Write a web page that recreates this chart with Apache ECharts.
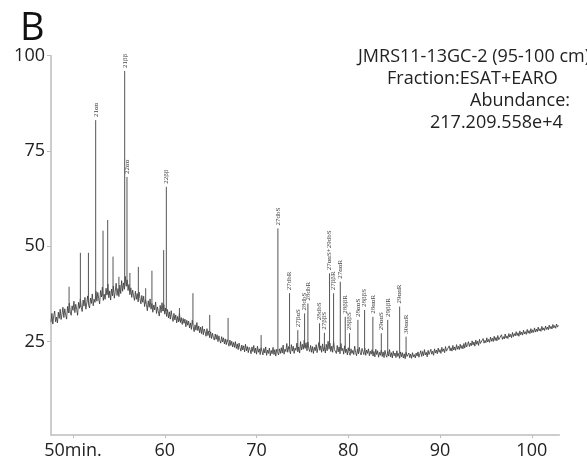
<!DOCTYPE html>
<html><head><meta charset="utf-8">
<script src="https://cdn.jsdelivr.net/npm/echarts@6/dist/echarts.min.js"></script>
<style>html,body{margin:0;padding:0;background:#fff}#c{width:587px;height:468px}</style>
</head><body><div id="c"></div>
<script>
// ---- data ----
const xTicks = [50, 60, 70, 80, 90, 100];
const yTicks = [25, 50, 75, 100];
const traceStart = 47.6, traceStep = 0.1;   // sampling of the noisy trace (min)
const traceA = [30.1,32.4,29.6,31.8,33.0,30.2,31.4,29.9,32.7,31.1,33.5,30.8,32.2,34.0,31.3,33.6,32.0,30.9,34.2,32.5,35.1,32.8,31.9,34.4,33.2,35.6,32.6,34.8,33.4,31.9,35.3,33.7,36.2,34.0,32.9,35.9,34.3,36.6,33.5,35.2,37.0,34.6,33.8,36.4,35.0,37.5,34.4,36.1,35.3,38.2];
const traceB = [35.6,37.9,36.2,34.9,38.4,36.7,39.3,35.8,37.4,36.1,39.0,37.2,40.1,36.5,38.3,35.9,38.8,37.0,39.6,36.4,38.1,40.3,37.1,38.9,36.8,39.8,37.6,41.0,38.2,40.4,38.7,42.1,39.5,41.2,38.4,40.0,37.3,39.1,36.6,38.5,37.0,35.8,38.2,36.1,37.6,35.4,38.0,36.3,34.9,37.1];
const traceC = [35.3,36.9,34.2,36.0,34.8,33.1,35.7,34.0,36.2,33.5,35.0,32.7,34.6,33.3,35.4,32.4,34.1,32.9,31.7,34.5,32.6,35.2,33.0,34.7,32.2,33.8,31.6,33.4,31.2,32.8,30.9,33.1,31.5,30.3,32.4,30.7,32.0,29.9,31.6,30.2,32.5,30.0,31.3,29.5,31.1,29.8,30.9,28.9,30.6,29.3];
const traceD = [30.4,28.6,29.9,28.2,30.6,28.9,27.6,29.4,28.0,30.0,27.9,29.1,27.3,28.8,27.1,29.0,26.8,28.3,27.5,26.4,28.4,26.6,27.8,26.0,27.6,25.8,27.2,26.1,25.4,27.0,25.6,26.8,25.0,26.5,25.3,24.6,26.3,24.9,26.0,24.4,25.7,24.2,25.5,24.7,23.8,25.4,24.0,25.1,23.6,24.8];
const traceE = [23.5,25.0,23.2,24.4,22.9,24.6,23.4,22.5,24.1,22.8,23.9,22.3,24.3,22.6,23.7,22.1,23.5,22.9,21.8,23.6,22.4,24.0,22.0,23.3,21.7,23.8,22.2,23.1,21.6,23.4,22.5,21.5,23.2,22.0,23.6,21.4,22.8,21.9,23.3,21.3,22.7,21.8,23.5,21.6,22.9,21.2,23.0,22.1,21.5,23.1];
const traceF = [21.9,23.4,22.0,24.1,21.7,23.0,22.4,24.5,22.2,23.7,22.6,21.8,24.2,22.5,23.8,21.9,23.3,22.7,24.6,22.3,23.6,22.0,25.0,22.8,24.3,23.0,25.4,23.2,24.7,22.6,24.9,23.1,22.4,24.0,22.2,23.7,21.9,23.5,22.6,24.2,22.1,23.3,24.8,22.7,23.9,22.2,24.4,22.5,23.6,22.0];
const traceG = [24.3,22.6,25.1,23.0,24.6,22.4,23.8,22.2,25.0,22.9,23.4,21.9,24.0,22.3,23.6,21.8,24.5,22.6,23.2,21.7,23.9,22.1,23.0,21.5,23.4,22.0,21.4,23.1,21.9,22.7,21.6,23.8,22.2,21.3,23.0,21.8,23.5,22.1,21.5,23.2,22.4,21.6,23.3,21.4,22.8,21.9,23.1,21.3,22.5,21.7];
const traceH = [22.9,21.2,22.4,21.0,23.0,21.6,22.6,20.9,22.2,21.4,22.8,21.1,22.3,20.8,22.7,21.5,20.9,22.4,21.2,22.9,21.0,22.1,20.7,22.5,21.3,22.0,20.8,22.6,21.1,21.9,20.6,22.3,21.0,22.1,20.7,21.8,20.5,22.2,21.1,20.6,22.0,20.8,21.7,20.6,22.1,21.0,21.6,20.7,22.0,21.2];
const traceI = [22.3,20.9,21.8,22.6,21.1,22.4,21.3,22.9,21.5,22.2,21.0,22.7,21.6,22.1,23.0,21.7,22.5,21.4,23.1,22.0,22.8,21.8,23.3,22.2,22.9,21.9,23.5,22.4,23.1,22.1,23.7,22.5,23.0,22.3,23.9,22.6,23.4,22.5,24.0,22.8,23.6,22.7,24.2,23.0,23.8,22.9,24.3,23.2,24.0,23.1];
const traceJ = [24.5,23.3,24.8,23.6,24.2,25.0,23.7,24.6,23.9,25.2,24.1,24.9,23.8,25.4,24.3,25.1,24.0,25.6,24.5,25.0,24.4,25.8,24.6,25.3,24.7,26.0,24.9,25.6,24.8,26.2,25.1,25.9,25.0,26.4,25.3,26.1,25.2,26.6,25.5,26.0,25.4,26.8,25.6,26.3,25.7,27.0,25.9,26.5,25.8,27.1];
const traceK = [26.2,26.9,26.0,27.4,26.3,27.1,26.5,27.6,26.6,27.3,26.4,27.8,26.8,27.5,26.7,28.0,27.0,27.6,26.9,28.2,27.2,27.9,27.1,28.4,27.3,28.1,27.4,28.6,27.5,28.3,27.6,28.8,27.8,28.4,27.7,29.0,28.0,28.6,27.9,29.1,28.2,28.8,28.1,29.3,28.4,29.0,28.3,29.5,28.6,29.2,28.5,29.6,28.8,29.3,29.0];

const peakTimes = [49.57,50.8,51.68,52.47,53.27,53.78,54.36,55.0,55.63,55.88,56.2,57.12,57.92,58.6,59.88,60.17,61.6,63.07,64.9,66.9,70.5,72.33,73.6,74.5,75.24,75.6,76.87,77.4,77.96,78.4,79.13,79.67,80.14,81.05,81.78,82.68,83.6,84.3,85.6,86.3];
const peakTops  = [39.4,48.3,48.3,83.1,54.1,56.9,47.3,42.0,96.0,68.2,43.0,44.6,39.0,43.6,49.0,65.6,33.8,37.7,32.0,31.2,26.7,54.7,37.7,28.0,32.4,35.0,29.8,27.3,42.9,37.7,40.7,31.5,27.2,30.7,33.3,31.5,27.2,30.7,34.2,26.3];
const peakBases = [32.5,34.0,35.0,36.0,37.0,37.5,38.0,38.0,40.0,40.0,38.0,36.0,35.0,34.0,33.0,33.0,30.5,29.5,27.5,25.0,22.5,22.5,23.0,23.0,23.5,23.5,23.0,23.0,23.5,23.5,23.0,22.5,22.5,22.5,22.5,22.0,22.0,22.0,21.8,21.5];
const peakNames = ['','','','21αα','','','','','21ββ','22αα','','','','','','22ββ','','','','','','27dbS','27dbR','27βαS','28dbS','28dbR','28dbS','27ββS','27ααS+29dbS','27ββR','27ααR','28ββR','28ββS','28ααS','28ββS','28ααR','29ααS','29ββR','29ααR','30ααR'];

const titleLetter = 'B';
const infoLines = ['JMRS11-13GC-2 (95-100 cm)', 'Fraction:ESAT+EARO', 'Abundance:', '217.209.558e+4'];

// ---- build ----
const traceValues = [].concat(traceA, traceB, traceC, traceD, traceE, traceF, traceG, traceH, traceI, traceJ, traceK);
const traceData = traceValues.map((v, i) => [+(traceStart + i * traceStep).toFixed(2), v]);
const peakData = peakTimes.map((t, i) => [t, peakBases[i], peakTops[i]]);

const chart = echarts.init(document.getElementById('c'), null, {renderer: 'canvas'});
const axisColor = '#bdbdbd';
const labelFont = {color: '#222', fontSize: 18, fontFamily: 'Open Sans'};
const infoStyle = {fontSize: 18, fontFamily: 'Open Sans', fill: '#222'};

chart.setOption({
  animation: false,
  backgroundColor: '#fff',
  grid: {left: 51, right: 27.7, top: 55.7, bottom: 33, containLabel: false},
  xAxis: {
    type: 'value', min: 47.6, max: 103,
    axisLine: {lineStyle: {color: axisColor, width: 1.5}},
    axisTick: {show: true, length: 3, lineStyle: {color: axisColor}, customValues: xTicks},
    axisLabel: Object.assign({margin: 7, customValues: xTicks,
      formatter: v => v === 50 ? '50min.' : String(v)}, labelFont),
    splitLine: {show: false}
  },
  yAxis: {
    type: 'value', min: 0.5, max: 100,
    axisLine: {show: true, lineStyle: {color: axisColor, width: 1.5}},
    axisTick: {show: true, length: 4, lineStyle: {color: axisColor}, customValues: yTicks},
    axisLabel: Object.assign({margin: 6, customValues: yTicks}, labelFont),
    splitLine: {show: false}
  },
  graphic: [
    {type: 'text', left: 20, top: 10, style: {text: titleLetter, fontSize: 38, fontFamily: 'Open Sans', fill: '#111'}},
    {type: 'text', left: 358, top: 48, style: Object.assign({text: infoLines[0]}, infoStyle)},
    {type: 'text', left: 387, top: 70, style: Object.assign({text: infoLines[1]}, infoStyle)},
    {type: 'text', left: 470, top: 92, style: Object.assign({text: infoLines[2]}, infoStyle)},
    {type: 'text', left: 430, top: 114, style: Object.assign({text: infoLines[3]}, infoStyle)}
  ],
  series: [
    {
      type: 'line', data: traceData, showSymbol: false, symbol: 'none',
      lineStyle: {color: '#333', width: 0.8}, z: 2
    },
    {
      type: 'custom', data: peakData, z: 3,
      encode: {x: 0, y: [1, 2]},
      renderItem: function (params, api) {
        const t = api.value(0), b = api.value(1), top = api.value(2);
        const name = peakNames[params.dataIndex];
        const p0 = api.coord([t, b]), p1 = api.coord([t, top]);
        const children = [{
          type: 'line',
          shape: {x1: p0[0], y1: p0[1], x2: p1[0], y2: p1[1]},
          style: {stroke: '#555', lineWidth: 1}
        }];
        if (name) {
          children.push({
            type: 'text', x: p1[0], y: p1[1] - 3, rotation: Math.PI / 2,
            style: {text: name, fontSize: 7, fontFamily: 'Liberation Serif', fill: '#444', align: 'left', verticalAlign: 'middle'}
          });
        }
        return {type: 'group', children: children};
      }
    }
  ]
});
</script>
</body></html>
